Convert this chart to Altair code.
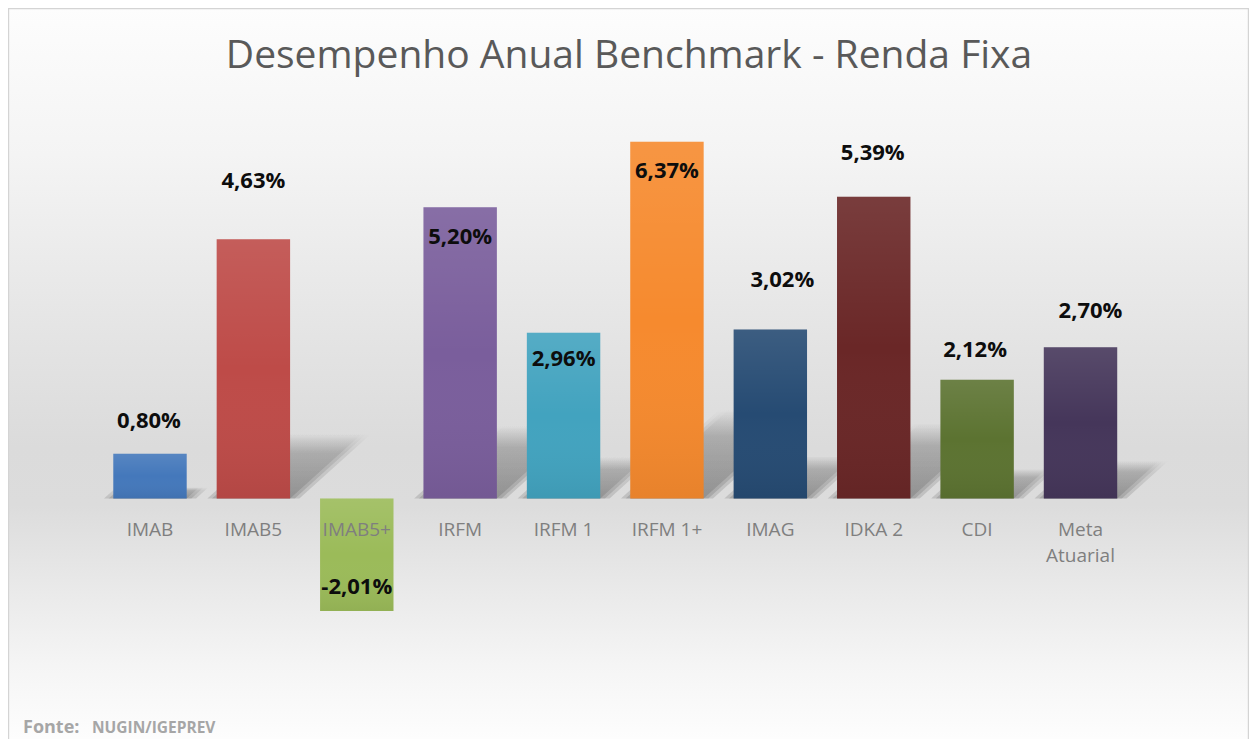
import altair as alt
import pandas as pd

# ---- data -------------------------------------------------------------
categories = ["IMAB", "IMAB5", "IMAB5+", "IRFM", "IRFM 1", "IRFM 1+",
              "IMAG", "IDKA 2", "CDI", "Meta\nAtuarial"]
values = [0.80, 4.63, -2.01, 5.20, 2.96, 6.37, 3.02, 5.39, 2.12, 2.70]
colors = ["#4478bb", "#be4b48", "#9bbb59", "#7a5e9c", "#42a3bf",
          "#f68a2e", "#264b73", "#6a2727", "#5c7331", "#45365a"]
title_text = "Desempenho Anual Benchmark - Renda Fixa"
source_bold = "Fonte:"
source_text = "NUGIN/IGEPREV"

# ---- style ------------------------------------------------------------
# manual data-label offsets in px (labels were dragged by hand in the original)
label_dx = [-1, 0, 0, 0, 0, 0, 12, -1, -2, 10]
label_dy = [-33, -58, -24, 30, 26, 29, -49, -44, -30, -36]

W, H = 1241, 731
X_DOM, X_RANGE = [0, 10], [90.3, 1124.2]
Y_DOM, Y_RANGE = [-4, 8], [714.5, 42.5]
PAD = 0.145          # half of the gap between bars, in category units
SH_RISE = 0.25       # shadow rise per value unit
SH_SHIFT = 0.15      # shadow horizontal shift per value unit

df = pd.DataFrame({
    "cat": categories,
    "value": values,
    "idx": list(range(len(categories))),
    "label": [f"{v:.2f}".replace(".", ",") + "%" for v in values],
    "ldx": label_dx,
    "ldy": label_dy,
})

xs = alt.Scale(domain=X_DOM, range=X_RANGE, nice=False, zero=False)
ys = alt.Scale(domain=Y_DOM, range=Y_RANGE, nice=False, zero=False)

base = alt.Chart(df).transform_calculate(
    x0=f"datum.idx + {PAD}",
    x1=f"datum.idx + {1 - PAD}",
    xc="datum.idx + 0.5",
)

one = alt.Chart(pd.DataFrame({"a": [0]}))

background = one.mark_rect(
    color={
        "gradient": "linear", "x1": 0, "y1": 0, "x2": 0, "y2": 1,
        "stops": [
            {"offset": 0.0, "color": "#fdfdfd"},
            {"offset": 0.2, "color": "#f4f4f4"},
            {"offset": 0.45, "color": "#e4e4e4"},
            {"offset": 0.6, "color": "#dbdbdb"},
            {"offset": 0.68, "color": "#dcdcdc"},
            {"offset": 0.8, "color": "#eaeaea"},
            {"offset": 0.9, "color": "#f5f5f5"},
            {"offset": 1.0, "color": "#fdfdfd"},
        ],
    }
).encode(x=alt.value(0), x2=alt.value(W), y=alt.value(0), y2=alt.value(H))

rule_style = dict(color="#d4d4d4", strokeWidth=1.2)
border = one.mark_rule(**rule_style).encode(
    x=alt.value(0.6), x2=alt.value(W - 0.6), y=alt.value(0.6)
) + one.mark_rule(**rule_style).encode(
    x=alt.value(0.6), y=alt.value(0), y2=alt.value(H)
) + one.mark_rule(**rule_style).encode(
    x=alt.value(W - 0.6), y=alt.value(0), y2=alt.value(H)
)

shadow_fill = {
    "gradient": "linear", "x1": 0, "y1": 1, "x2": 0, "y2": 0,
    "stops": [
        {"offset": 0.0, "color": "rgba(0,0,0,0.13)"},
        {"offset": 0.7, "color": "rgba(0,0,0,0.08)"},
        {"offset": 1.0, "color": "rgba(0,0,0,0.0)"},
    ],
}

# perspective shadows cast by the positive bars (soft: a few widened layers)
shadows = []
for spread in [0.09, 0.045, 0.0]:
    s = base.transform_filter("datum.value > 0").transform_calculate(
        t0="0", t1="1"
    ).transform_fold(["t0", "t1"], as_=["k", "t"]).transform_calculate(
        sy=f"toNumber(datum.t) * datum.value * {SH_RISE}",
        sx=f"datum.idx + {PAD - spread} + toNumber(datum.t) * datum.value * {SH_SHIFT}",
        sx2=f"datum.idx + {1 - PAD + spread} + toNumber(datum.t) * datum.value * {SH_SHIFT}",
    ).mark_area(orient="horizontal", color=shadow_fill).encode(
        y=alt.Y("sy:Q", scale=ys, axis=None),
        x=alt.X("sx:Q", scale=xs, axis=None),
        x2="sx2:Q",
        detail="cat:N",
    )
    shadows.append(s)

bars = base.mark_bar().encode(
    x=alt.X("x0:Q", scale=xs, axis=None),
    x2="x1:Q",
    y=alt.Y("value:Q", scale=ys, axis=None),
    y2=alt.datum(0),
    color=alt.Color("cat:N", scale=alt.Scale(domain=categories, range=colors), legend=None),
)

sheen = base.mark_bar(
    color={
        "gradient": "linear", "x1": 0, "y1": 0, "x2": 0, "y2": 1,
        "stops": [
            {"offset": 0, "color": "rgba(255,255,255,0.10)"},
            {"offset": 0.5, "color": "rgba(255,255,255,0.0)"},
            {"offset": 1, "color": "rgba(0,0,0,0.06)"},
        ],
    }
).encode(
    x=alt.X("x0:Q", scale=xs, axis=None),
    x2="x1:Q",
    y=alt.Y("value:Q", scale=ys, axis=None),
    y2=alt.datum(0),
)

value_labels = base.mark_text(
    font="Open Sans", fontSize=22, fontWeight="bold", color="#0d0d0d",
    baseline="middle", align="center",
    dx=alt.expr("datum.ldx"), dy=alt.expr("datum.ldy"),
).encode(
    x=alt.X("xc:Q", scale=xs, axis=None),
    y=alt.Y("value:Q", scale=ys, axis=None),
    text="label:N",
)

cat_labels = base.mark_text(
    font="Open Sans", fontSize=19, color="#7f7f7f", baseline="alphabetic",
    align="center", lineBreak="\n", lineHeight=26, dy=37.5,
).encode(
    x=alt.X("xc:Q", scale=xs, axis=None),
    y=alt.datum(0),
    text="cat:N",
)

title = one.mark_text(
    font="Open Sans", fontSize=39, color="#595959", baseline="alphabetic", align="center",
).encode(x=alt.value(621), y=alt.value(60), text=alt.value(title_text))

src1 = one.mark_text(
    font="Open Sans", fontSize=18, fontWeight="bold", color="#a6a6a6",
    baseline="alphabetic", align="left",
).encode(x=alt.value(15), y=alt.value(725), text=alt.value(source_bold))

src2 = one.mark_text(
    font="Open Sans", fontSize=15.5, fontWeight="bold", color="#a6a6a6",
    baseline="alphabetic", align="left",
).encode(x=alt.value(84), y=alt.value(725), text=alt.value(source_text))

chart = alt.layer(
    background, *shadows, bars, sheen, value_labels, cat_labels, title, src1, src2, border
).properties(
    width=W, height=H, padding=0, autosize=alt.AutoSizeParams(type="none")
).configure_view(stroke=None)

chart.save("out.html", embed_options={"renderer": "svg", "actions": False})
